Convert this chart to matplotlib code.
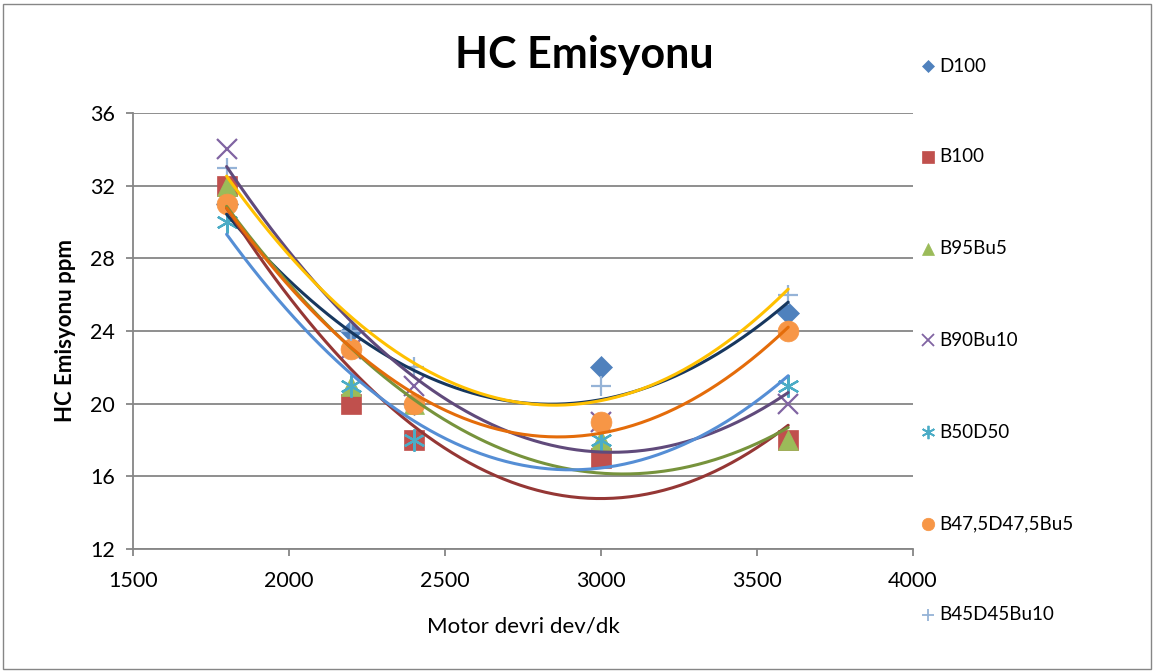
import numpy as np
import matplotlib.pyplot as plt
from matplotlib.patches import Rectangle

plt.rcParams['font.family'] = ['Lato', 'DejaVu Sans']

# Datos
rpm = [1800, 2200, 2400, 3000, 3600]
series_names = ["D100", "B100", "B95Bu5", "B90Bu10", "B50D50", "B47,5D47,5Bu5", "B45D45Bu10"]
d100 = [31, 24, 20, 22, 25]
b100 = [32, 20, 18, 17, 18]
b95bu5 = [32, 21, 20, 18, 18]
b90bu10 = [34, 23, 21, 19, 20]
b50d50 = [30, 21, 18, 18, 21]
b475 = [31, 23, 20, 19, 24]
b45d45bu10 = [33, 24, 22, 21, 26]
all_series = [d100, b100, b95bu5, b90bu10, b50d50, b475, b45d45bu10]

markers = ["D", "s", "^", "x", (6, 2, 0), "o", "+"]
msizes = [11, 14, 14, 14, 16, 15, 14]
mcolors = ["#4F81BD", "#C0504D", "#9BBB59", "#8064A2", "#4BACC6", "#F79646", "#95B3D7"]
tcolors = ["#17375E", "#953735", "#77933C", "#604A7B", "#558ED5", "#E46C0A", "#FFC000"]

fig = plt.figure(figsize=(11.56, 6.72), dpi=100)
ax = fig.add_axes([133 / 1156, 1 - 549 / 672, 780 / 1156, 436 / 672])

thin = lambda m: m in ("x", "+") or isinstance(m, tuple)

for i, ys in enumerate(all_series):
    ax.plot(rpm, ys, linestyle="none", marker=markers[i], markersize=msizes[i],
            color=mcolors[i], markeredgecolor=mcolors[i],
            markeredgewidth=1.6 if thin(markers[i]) else 0.5,
            zorder=3 + i * 0.1, label=series_names[i])

# Lineas de tendencia polinomicas (orden 2)
xs = np.linspace(1800, 3600, 200)
for i, ys in enumerate(all_series):
    c = np.polyfit(rpm, ys, 2)
    ax.plot(xs, np.polyval(c, xs), color=tcolors[i], lw=2.2, zorder=5 + i * 0.1,
            solid_capstyle="round")

ax.set_xlim(1500, 4000)
ax.set_ylim(12, 36)
ax.set_xticks(range(1500, 4001, 500))
ax.set_yticks(range(12, 37, 4))
ax.grid(axis="y", color="#868686", lw=1.3)
ax.set_axisbelow(True)
for s in ["top", "right"]:
    ax.spines[s].set_visible(False)
for s in ["left", "bottom"]:
    ax.spines[s].set_color("#868686")
    ax.spines[s].set_linewidth(1.3)
ax.tick_params(axis="both", labelsize=15.5, color="#868686", length=5, width=1.3)
ax.tick_params(axis="x", pad=11)
ax.tick_params(axis="y", pad=8)

ax.set_xlabel("Motor devri dev/dk", fontsize=16, labelpad=18)
ax.set_ylabel("HC Emisyonu ppm", fontsize=16, fontweight="bold", labelpad=10)
fig.text(584 / 1156, 1 - 55 / 672, "HC Emisyonu", fontsize=31, fontweight="bold",
         ha="center", va="center")

# Leyenda
leg_y = [66, 157, 249, 340, 432, 524, 615]
for i in range(len(series_names)):
    fy = 1 - leg_y[i] / 672
    fig.add_artist(plt.Line2D([928 / 1156], [fy], marker=markers[i], markersize=msizes[i] * 0.6,
                              color=mcolors[i], markeredgecolor=mcolors[i],
                              markeredgewidth=1.3 if thin(markers[i]) else 0.5,
                              linestyle="none", transform=fig.transFigure))
    fig.text(939 / 1156, fy, series_names[i], fontsize=13.5, va="center", ha="left")

fig.add_artist(Rectangle((3 / 1156, 3 / 672), 1148 / 1156, 665 / 672, fill=False,
                         edgecolor="#868686", lw=1, transform=fig.transFigure))

fig.savefig("out.png", dpi=100)
